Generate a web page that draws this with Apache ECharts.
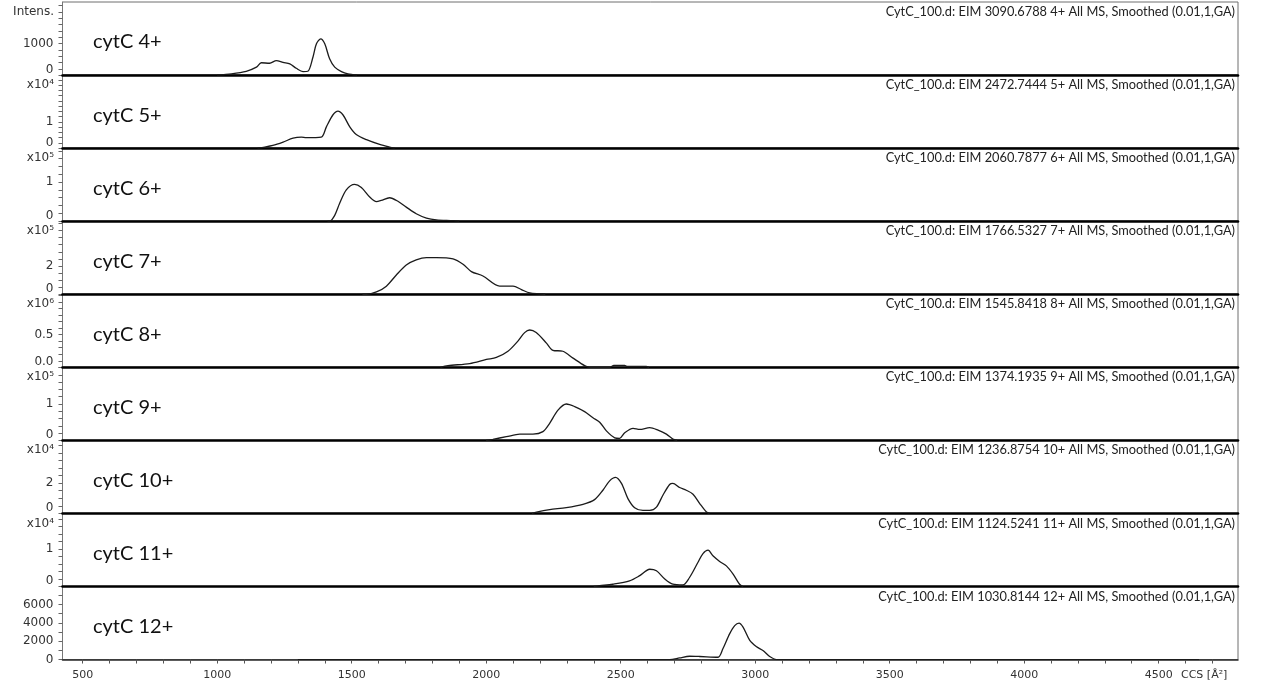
<!DOCTYPE html>
<html>
<head>
<meta charset="utf-8">
<script src="https://cdn.jsdelivr.net/npm/echarts@6/dist/echarts.min.js"></script>
<style>
  html, body { margin: 0; padding: 0; background: #fff; }
  #chart { width: 1270px; height: 693px; }
</style>
</head>
<body>
<div id="chart"></div>
<script>
// Charge states and extracted-ion m/z values, one stacked panel each
const charges = ['4+', '5+', '6+', '7+', '8+', '9+', '10+', '11+', '12+'];
const eimMz = ['3090.6788', '2472.7444', '2060.7877', '1766.5327', '1545.8418',
               '1374.1935', '1236.8754', '1124.5241', '1030.8144'];

// Intensity scale of each panel
const scaleLabels = ['Intens.', 'x10⁴', 'x10⁵', 'x10⁵', 'x10⁶', 'x10⁵', 'x10⁴', 'x10⁴', ''];
const divisors = [1, 1e4, 1e5, 1e5, 1e6, 1e5, 1e4, 1e4, 1];
const yMax = [2317, 27800, 187000, 516000, 1116000, 201000, 48200, 19520, 7960];
const yMajorTicks = [
  [0, 1000], [0, 1e4], [0, 1e5], [0, 2e5], [0, 5e5],
  [0, 1e5], [0, 2e4], [0, 1e4], [0, 2000, 4000, 6000]
];
const yMinorStep = [200, 2000, 20000, 50000, 100000, 20000, 5000, 2000, 1000];

// CCS axis
const xLabelTicks = [500, 1000, 1500, 2000, 2500, 3000, 3500, 4000, 4500];
const X_MIN = 425, X_MAX = 4795;

// Mobilograms: CCS (Å²) and smoothed intensity
const ccs4 = [1000, 1053, 1108, 1146, 1164, 1195, 1220, 1245, 1270, 1294, 1319, 1337, 1356, 1369, 1385, 1400, 1418, 1437, 1462, 1486, 1520];
const int4 = [0, 40, 120, 250, 390, 375, 460, 400, 355, 215, 110, 120, 565, 990, 1150, 990, 515, 250, 110, 40, 0];

const ccs5 = [1150, 1177, 1207, 1245, 1282, 1313, 1331, 1387, 1406, 1430, 1449, 1468, 1493, 1517, 1555, 1604, 1641, 1660];
const int5 = [0, 400, 1000, 2300, 3800, 4200, 4000, 4200, 8100, 12600, 14100, 12600, 8100, 5200, 3200, 1400, 400, 0];

const ccs6 = [1410, 1418, 1437, 1455, 1480, 1511, 1536, 1567, 1592, 1610, 1641, 1672, 1703, 1740, 1778, 1815, 1877, 1900];
const int6 = [0, 0, 15000, 45000, 80000, 94000, 86000, 62000, 50000, 53000, 60000, 51000, 36000, 19000, 8000, 3500, 1500, 0];

const ccs7 = [1540, 1555, 1592, 1629, 1666, 1703, 1740, 1778, 1815, 1877, 1914, 1945, 1988, 2050, 2100, 2131, 2162, 2199, 2220];
const int7 = [0, 0, 16000, 57000, 136000, 207000, 243000, 259000, 259000, 250000, 212000, 160000, 129000, 57000, 57000, 33000, 9000, 3000, 0];

const ccs8 = [1830, 1858, 1939, 2001, 2038, 2081, 2118, 2143, 2162, 2186, 2224, 2248, 2285, 2323, 2366, 2385, 2460, 2475, 2515, 2525, 2595, 2605];
const int8 = [0, 26000, 57000, 120000, 150000, 245000, 400000, 530000, 570000, 530000, 370000, 260000, 245000, 140000, 26000, 0, 0, 30000, 30000, 12000, 12000, 0];

const ccs9 = [2000, 2025, 2075, 2125, 2174, 2211, 2236, 2267, 2298, 2329, 2366, 2397, 2422, 2447, 2478, 2496, 2515, 2546, 2571, 2608, 2639, 2670, 2694, 2710];
const int9 = [0, 3000, 10000, 17000, 17000, 24000, 47000, 83000, 100000, 93000, 79000, 62000, 50000, 26000, 7000, 5500, 21000, 33000, 30000, 35000, 28000, 17000, 3500, 0];

const ccs10 = [2170, 2187, 2236, 2298, 2360, 2403, 2434, 2459, 2481, 2503, 2527, 2552, 2583, 2608, 2633, 2657, 2682, 2694, 2719, 2744, 2769, 2794, 2819, 2830];
const int10 = [0, 900, 2500, 3800, 6000, 9100, 15300, 21500, 23800, 19800, 9800, 3800, 2000, 2000, 4200, 12000, 19100, 19800, 17100, 15300, 12700, 6500, 900, 0];

const ccs11 = [2400, 2422, 2471, 2533, 2571, 2608, 2633, 2664, 2694, 2731, 2756, 2787, 2806, 2825, 2843, 2868, 2893, 2918, 2942, 2955];
const int11 = [0, 200, 600, 1500, 2900, 4600, 4200, 2000, 600, 400, 2400, 6400, 8800, 9700, 8200, 6700, 5500, 3300, 600, 0];

const ccs12 = [1300, 2682, 2719, 2756, 2794, 2862, 2880, 2905, 2924, 2940, 2955, 2980, 3004, 3029, 3054, 3079, 4650];
const int12 = [0, 0, 180, 360, 330, 250, 1170, 2800, 3700, 3970, 3530, 2080, 1420, 980, 330, 0, 0];

const ccsSets = [ccs4, ccs5, ccs6, ccs7, ccs8, ccs9, ccs10, ccs11, ccs12];
const intSets = [int4, int5, int6, int7, int8, int9, int10, int11, int12];

// Panel layout
const LEFT = 62.5, RIGHT_EDGE = 1238, TOP = 2, PANEL_H = 73.06;
const TICK_FONT = 'DejaVu Sans';
const TEXT_FONT = 'Lato';

function xMinorTicks() {
  const out = [];
  for (let v = 500; v <= 4700; v += 100) out.push(v);
  return out;
}
function yTicks(i) {
  const out = [];
  const step = yMinorStep[i];
  for (let k = 0; k * step <= yMax[i]; k++) out.push(k * step);
  return out;
}
function fmtY(i, v) {
  const d = v / divisors[i];
  return i === 4 ? d.toFixed(1) : String(Math.round(d));
}

const grids = [], xAxes = [], yAxes = [], series = [], graphics = [];
const nPanels = charges.length;

for (let i = 0; i < nPanels; i++) {
  const top = TOP + PANEL_H * i;
  const last = i === nPanels - 1;

  grids.push({
    left: LEFT, right: 1270 - RIGHT_EDGE, top: top, height: PANEL_H,
    show: true, borderColor: '#6e6e6e', borderWidth: 1, backgroundColor: 'transparent'
  });

  xAxes.push({
    type: 'value', gridIndex: i, min: X_MIN, max: X_MAX,
    axisLine: { show: true, onZero: false, lineStyle: { color: last ? '#2a2a2a' : '#000', width: last ? 1.5 : 2.6 } },
    axisTick: last
      ? { show: true, customValues: xMinorTicks(), length: 4, lineStyle: { color: '#555', width: 1 } }
      : { show: false },
    axisLabel: last
      ? { show: true, customValues: xLabelTicks, margin: 10, fontFamily: TICK_FONT, fontSize: 11, color: '#333',
          formatter: function (v) { return String(v); } }
      : { show: false },
    splitLine: { show: false },
    z: 1
  });

  yAxes.push({
    type: 'value', gridIndex: i, min: 0, max: yMax[i],
    axisLine: { show: true, lineStyle: { color: '#777', width: 1 } },
    axisTick: { show: true, customValues: yTicks(i), length: 4, lineStyle: { color: '#666', width: 1 } },
    axisLabel: {
      show: true, customValues: yMajorTicks[i], margin: 9,
      fontFamily: TICK_FONT, fontSize: 12, color: '#333',
      formatter: function (v) {
        const s = fmtY(i, v);
        return (v === 0 && !last) ? '{z|' + s + '}' : s;
      },
      rich: { z: { fontFamily: TICK_FONT, fontSize: 12, color: '#333', padding: [0, 0, 11, 0] } }
    },
    splitLine: { show: false }
  });

  series.push({
    type: 'line', name: 'cytC ' + charges[i],
    xAxisIndex: i, yAxisIndex: i,
    data: ccsSets[i].map((c, k) => [c, intSets[i][k]]),
    showSymbol: false, symbol: 'none', smooth: 0.3,
    lineStyle: { color: '#1b1b1b', width: 1.3 },
    silent: true, z: 3
  });

  if (scaleLabels[i]) {
    graphics.push({
      type: 'text', x: 54, y: top + 10, silent: true,
      style: { text: scaleLabels[i], fontFamily: TICK_FONT, fontSize: 12, fill: '#333', align: 'right', verticalAlign: 'middle' }
    });
  }
  graphics.push({
    type: 'text', x: 93, y: top + 40, silent: true,
    style: { text: 'cytC ' + charges[i], fontFamily: TEXT_FONT, fontSize: 20, fill: '#111', align: 'left', verticalAlign: 'middle' }
  });
  graphics.push({
    type: 'text', x: RIGHT_EDGE - 3, y: top + 10, silent: true,
    style: {
      text: 'CytC_100.d: EIM ' + eimMz[i] + ' ' + charges[i] + ' All MS, Smoothed (0.01,1,GA)',
      fontFamily: TEXT_FONT, fontSize: 12.8, fill: '#222', align: 'right', verticalAlign: 'middle'
    }
  });
}

graphics.push({
  type: 'text', x: 1181, y: TOP + PANEL_H * nPanels + 16, silent: true,
  style: { text: 'CCS [Å²]', fontFamily: TICK_FONT, fontSize: 11, fill: '#333', align: 'left', verticalAlign: 'middle' }
});

const chart = echarts.init(document.getElementById('chart'), null, { renderer: 'canvas' });
chart.setOption({
  backgroundColor: '#fff',
  animation: false,
  grid: grids,
  xAxis: xAxes,
  yAxis: yAxes,
  series: series,
  graphic: graphics
});
</script>
</body>
</html>
